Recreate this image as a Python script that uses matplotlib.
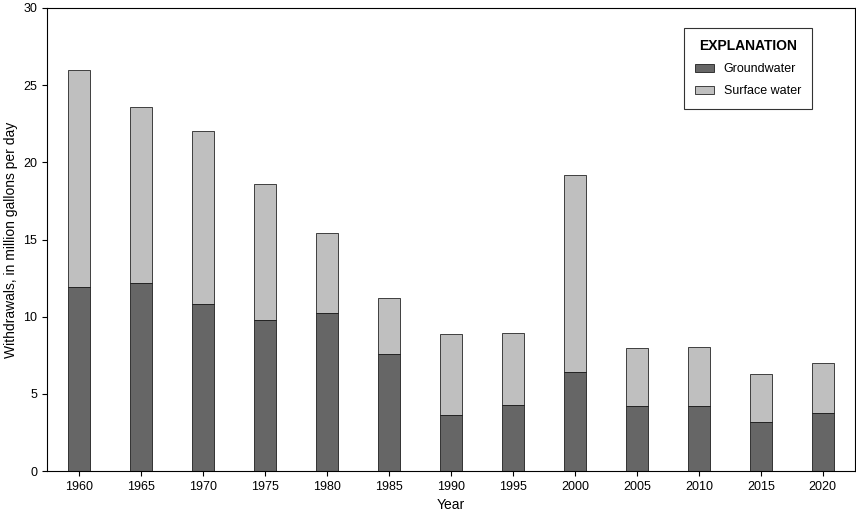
import matplotlib
matplotlib.use("Agg")
import matplotlib.pyplot as plt
import numpy as np

years = ["1960","1965","1970","1975","1980","1985","1990","1995","2000","2005","2010","2015","2020"]
groundwater = [11.9,12.2,10.8,9.8,10.25,7.6,3.65,4.3,6.4,4.2,4.2,3.2,3.75]
total = [26.0,23.6,22.0,18.6,15.4,11.2,8.85,8.95,19.15,8.0,8.05,6.3,7.0]
surface = [t-g for t,g in zip(total,groundwater)]

plt.rcParams['font.family'] = ['Liberation Sans','DejaVu Sans']
fig = plt.figure(figsize=(8.56,5.15), dpi=100)
ax = fig.add_axes([47/856, 1-471/515, (855-47)/856, (471-8)/515])
x = np.arange(len(years))
w = 0.36
ax.bar(x, groundwater, w, color='#666666', edgecolor='black', linewidth=0.5, label='Groundwater')
ax.bar(x, surface, w, bottom=groundwater, color='#bfbfbf', edgecolor='black', linewidth=0.5, label='Surface water')
ax.set_xlim(-0.52, 12.52)
ax.set_ylim(0, 30)
ax.set_xticks(x)
ax.set_xticklabels(years, fontsize=9)
ax.set_yticks(range(0,31,5))
ax.tick_params(axis='y', labelsize=9, right=True, direction='out')
ax.tick_params(axis='x', direction='out')
ax.set_xlabel('Year', fontsize=10)
ax.set_ylabel('Withdrawals, in million gallons per day', fontsize=10)
leg = ax.legend(loc='upper right', bbox_to_anchor=(0.955, 0.97), title='EXPLANATION', fontsize=9,
                frameon=True, fancybox=False, edgecolor='black', handlelength=1.5, borderpad=0.9, labelspacing=0.8)
leg.get_title().set_fontweight('bold')
leg.get_title().set_fontsize(10)
leg.get_frame().set_linewidth(0.8)
fig.savefig('out.png', dpi=100)
